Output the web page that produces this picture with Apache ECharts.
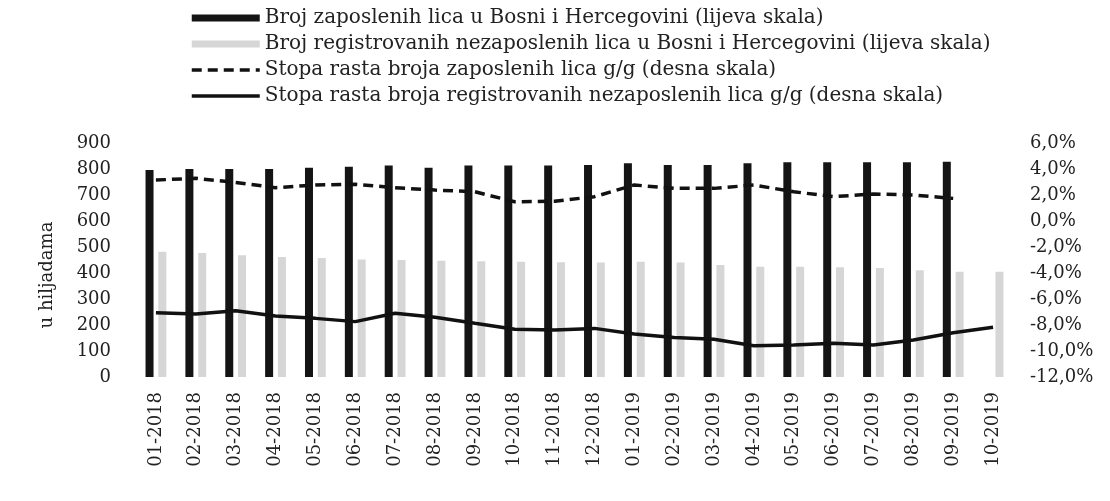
<!DOCTYPE html>
<html>
<head>
<meta charset="utf-8">
<script src="https://cdn.jsdelivr.net/npm/echarts@6/dist/echarts.min.js"></script>
<style>
  html, body { margin: 0; padding: 0; background: #fff; }
  #main { width: 1110px; height: 501px; }
</style>
</head>
<body>
<div id="main"></div>
<script>
// mjeseci
let months = ['01-2018', '02-2018', '03-2018', '04-2018', '05-2018', '06-2018', '07-2018',
    '08-2018', '09-2018', '10-2018', '11-2018', '12-2018', '01-2019', '02-2019', '03-2019',
    '04-2019', '05-2019', '06-2019', '07-2019', '08-2019', '09-2019', '10-2019'];

// u hiljadama (lijeva skala)
let employed = [796, 800, 800, 800, 805, 809, 813, 805, 813, 813, 813, 815,
    822, 815, 815, 822, 826, 826, 826, 826, 828, null];
let unemployed = [482, 477, 468, 462, 458, 452, 450, 447, 445, 443, 441, 440,
    443, 440, 431, 424, 424, 422, 419, 411, 405, 405];

// stope rasta g/g, % (desna skala)
let employedRate = [3.15, 3.28, 2.97, 2.56, 2.77, 2.82, 2.56, 2.38, 2.25, 1.48, 1.52, 1.87,
    2.77, 2.51, 2.51, 2.77, 2.25, 1.87, 2.08, 2.0, 1.74, null];
let unemployedRate = [-7.05, -7.15, -6.9, -7.3, -7.49, -7.74, -7.1, -7.4, -7.87, -8.33, -8.38, -8.26,
    -8.7, -8.97, -9.1, -9.6, -9.54, -9.4, -9.54, -9.15, -8.6, -8.18];

let leftTicks = { min: 0, max: 900, interval: 100 };
let rightTicks = { min: -12, max: 6, interval: 2 };

let names = [
    'Broj zaposlenih lica u Bosni i Hercegovini (lijeva skala)',
    'Broj registrovanih nezaposlenih lica u Bosni i Hercegovini (lijeva skala)',
    'Stopa rasta broja zaposlenih lica g/g (desna skala)',
    'Stopa rasta broja registrovanih nezaposlenih lica g/g (desna skala)'
];

let font = 'DejaVu Serif';
let txt = '#222';

let myChart = echarts.init(document.getElementById('main'));

myChart.setOption({
    animation: false,
    backgroundColor: '#fff',
    textStyle: { fontFamily: font },
    legend: {
        orient: 'vertical',
        left: 185,
        top: 3,
        itemWidth: 68,
        itemHeight: 7,
        itemGap: 6,
        textStyle: { fontFamily: font, fontSize: 20, color: txt, lineHeight: 20 },
        data: [
            { name: names[0], icon: 'rect' },
            { name: names[1], icon: 'rect' },
            { name: names[2], itemStyle: { opacity: 0 }, lineStyle: { width: 3.5 } },
            { name: names[3], itemStyle: { opacity: 0 }, lineStyle: { width: 3.5 } }
        ]
    },
    grid: { left: 136, right: 97, top: 143, bottom: 124 },
    xAxis: {
        type: 'category',
        data: months,
        axisLine: { show: false },
        axisTick: { show: false },
        axisLabel: { rotate: 90, margin: 15, fontFamily: font, fontSize: 18, color: txt, interval: 0 }
    },
    yAxis: [
        {
            type: 'value',
            min: leftTicks.min,
            max: leftTicks.max,
            interval: leftTicks.interval,
            name: 'u hiljadama',
            nameLocation: 'middle',
            nameGap: 80,
            nameTextStyle: { fontFamily: font, fontSize: 18, color: txt, padding: [0, 30, 0, 0] },
            axisLine: { show: false },
            axisTick: { show: false },
            splitLine: { show: false },
            axisLabel: { margin: 25, fontFamily: font, fontSize: 18, color: txt }
        },
        {
            type: 'value',
            min: rightTicks.min,
            max: rightTicks.max,
            interval: rightTicks.interval,
            axisLine: { show: false },
            axisTick: { show: false },
            splitLine: { show: false },
            axisLabel: {
                margin: 17,
                fontFamily: font,
                fontSize: 18,
                color: txt,
                formatter: v => v.toFixed(1).replace('.', ',') + '%'
            }
        }
    ],
    series: [
        {
            name: names[0],
            type: 'bar',
            barWidth: 8,
            barGap: '60%',
            itemStyle: { color: '#141414' },
            data: employed
        },
        {
            name: names[1],
            type: 'bar',
            barWidth: 8,
            barGap: '60%',
            itemStyle: { color: '#d6d6d6' },
            data: unemployed
        },
        {
            name: names[2],
            type: 'line',
            yAxisIndex: 1,
            symbol: 'none',
            lineStyle: { color: '#111', width: 3.5, type: [10, 6] },
            itemStyle: { color: '#111' },
            data: employedRate
        },
        {
            name: names[3],
            type: 'line',
            yAxisIndex: 1,
            symbol: 'none',
            lineStyle: { color: '#111', width: 3.5 },
            itemStyle: { color: '#111' },
            data: unemployedRate
        }
    ]
});

window.addEventListener('resize', () => myChart.resize());
</script>
</body>
</html>
